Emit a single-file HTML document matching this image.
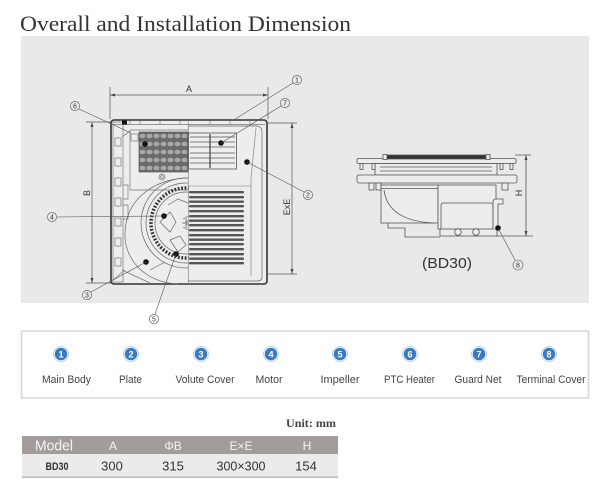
<!DOCTYPE html>
<html><head><meta charset="utf-8"><style>
html,body{margin:0;padding:0;background:#fff;}
svg{display:block;}
</style></head><body>
<svg width="600" height="491" viewBox="0 0 600 491" xmlns="http://www.w3.org/2000/svg">
<defs>
<clipPath id="lh"><rect x="110" y="150" width="78.5" height="140"/></clipPath>
<pattern id="ptc" width="7" height="8" patternUnits="userSpaceOnUse" x="139" y="132">
<rect width="7" height="8" fill="#6a6a6a"/>
<ellipse cx="3.5" cy="4" rx="3" ry="2.3" fill="#a8a8a8"/>
</pattern>
</defs>

<text x="20" y="31" font-family="Liberation Serif, serif" font-size="22" fill="#333" textLength="331" lengthAdjust="spacingAndGlyphs">Overall and Installation Dimension</text>

<rect x="21" y="36" width="568" height="267" fill="#e9e9e9"/>

<!-- LEFT DRAWING -->
<g stroke="#555" stroke-width="0.7" fill="none">
  <!-- dim A -->
  <path d="M110,87 V119 M268,87 V119 M110,95 H268"/>
  <!-- dim B -->
  <path d="M86,122 H112 M86,283 H112 M92,122 V283"/>
  <!-- dim ExE -->
  <path d="M268,123 H297 M268,274 H297 M292,123 V274"/>
</g>
<g fill="#444">
  <path d="M110,95 l5,-1.5 v3z M268,95 l-5,-1.5 v3z"/>
  <path d="M92,122 l-1.5,5 h3z M92,283 l-1.5,-5 h3z"/>
  <path d="M292,123 l-1.5,5 h3z M292,274 l-1.5,-5 h3z"/>
</g>
<g font-family="Liberation Sans, sans-serif" font-size="9" fill="#333" text-anchor="middle">
  <text x="189" y="92">A</text>
  <text transform="translate(90,193) rotate(-90)">B</text>
  <text transform="translate(290,207) rotate(-90)">ExE</text>
</g>

<!-- body -->
<rect x="111" y="120" width="156" height="164" rx="3" fill="#ededed" stroke="#333" stroke-width="1.6"/>
<g stroke="#777" stroke-width="0.7" fill="none">
  <rect x="113" y="122" width="10" height="160"/>
  <rect x="115" y="138" width="6" height="8"/>
  <rect x="115" y="158" width="6" height="8"/>
  <rect x="115" y="178" width="6" height="8"/>
  <rect x="115" y="198" width="6" height="8"/>
  <rect x="115" y="218" width="6" height="8"/>
  <rect x="115" y="238" width="6" height="8"/>
  <rect x="115" y="258" width="6" height="8"/>
  <path d="M123,185 h5 v14 h-5 M123,205 h5 v14 h-5"/>
  <path d="M113,124.5 H265"/>
  <path d="M130,121 v3 M140,121 v3 M160,121 v3 M180,121 v3 M210,121 v3 M230,121 v3 M250,121 v3"/>
  <!-- PTC enclosure -->
  <path d="M130,130 H188 M130,130 V190 H188"/>
  <rect x="131" y="134" width="7" height="7"/>
  <path d="M122,137 l8,-6"/>
  <circle cx="162" cy="177" r="3"/>
  <circle cx="162" cy="177" r="1.4"/>
  <!-- plate right -->
  <path d="M188,126 H256 Q262,126 262,132 V277 Q262,281 257,281 H188" stroke="#666"/>
  <path d="M256,128 L251,178 V276" stroke="#888"/>
  <path d="M188,186 H251" stroke="#999"/>
  <path d="M188.3,120 V284" stroke="#888"/>
  <path d="M122,270 L150,283 M113,280 L125,270"/>
</g>
<rect x="139" y="132" width="49" height="40" fill="url(#ptc)" stroke="#555" stroke-width="0.7"/>
<rect x="122" y="120.5" width="5" height="4" fill="#111"/>
<!-- guard net -->
<rect x="188.5" y="133" width="48" height="36" fill="#eee" stroke="#555" stroke-width="0.8"/>
<g stroke="#555" stroke-width="0.8">
  <path d="M190,137 H235 M190,142 H235 M190,147 H235 M190,153 H235 M190,158 H235 M190,163 H235"/>
  <path d="M210,134 V168" stroke-width="1.4"/>
</g>
<!-- grille -->
<g fill="#555">
  <rect x="189" y="191" width="55" height="2.4" rx="1"/>
  <rect x="189" y="196" width="55" height="2.4" rx="1"/>
  <rect x="189" y="200.5" width="55" height="2.4" rx="1"/>
  <rect x="189" y="205" width="55" height="2.4" rx="1"/>
  <rect x="189" y="210" width="55" height="2.4" rx="1"/>
  <rect x="189" y="215" width="55" height="2.4" rx="1"/>
  <rect x="189" y="219.5" width="55" height="2.4" rx="1"/>
  <rect x="189" y="224" width="55" height="2.4" rx="1"/>
  <rect x="189" y="229" width="55" height="2.4" rx="1"/>
  <rect x="189" y="234" width="55" height="2.4" rx="1"/>
  <rect x="189" y="238.5" width="55" height="2.4" rx="1"/>
  <rect x="189" y="243" width="55" height="2.4" rx="1"/>
  <rect x="189" y="248" width="55" height="2.4" rx="1"/>
  <rect x="189" y="253" width="55" height="2.4" rx="1"/>
  <rect x="189" y="257.5" width="55" height="2.4" rx="1"/>
  <rect x="189" y="262" width="55" height="2.4" rx="1"/>
</g>
<!-- impeller / volute -->
<g clip-path="url(#lh)" fill="none" stroke="#666" stroke-width="0.7">
  <path d="M188,178 C160,178 126,195 125,233 C124,262 148,283 178,284"/>
  <circle cx="186" cy="223" r="45"/>
  <circle cx="186" cy="223" r="40"/>
  <circle cx="186" cy="223" r="35" stroke="#333" stroke-width="3.5" stroke-dasharray="1.8 1.6"/>
  <circle cx="186" cy="223" r="31"/>
  <path d="M168,205 L178,199 L188,203 M160,222 L170,212 L176,222 L170,232 Z M170,240 L180,236 L186,245 L178,252 Z M150,270 L165,262"/>
  <path d="M188,216 L183,219 M188,230 L183,227 M182,223 H188 M186,218 L186,228"/>
  <circle cx="188" cy="223" r="2"/>
</g>
<!-- dots -->
<g fill="#111">
  <circle cx="145" cy="144" r="2.8"/>
  <circle cx="221" cy="143" r="2.8"/>
  <circle cx="247" cy="162" r="2.8"/>
  <circle cx="164" cy="216" r="2.8"/>
  <circle cx="176" cy="254" r="2.8"/>
  <circle cx="146" cy="262" r="2.8"/>
</g>
<!-- callouts -->
<g stroke="#555" stroke-width="0.6" fill="none">
  <path d="M293,83 L232,121"/>
  <path d="M281,106 L221,143"/>
  <path d="M79,109 L131,133"/>
  <path d="M304,192 L247,162"/>
  <path d="M57,217 L164,216"/>
  <path d="M91,292 L146,262"/>
  <path d="M155,314 L176,254"/>
  <circle cx="297" cy="80" r="4.6"/>
  <circle cx="285" cy="103" r="4.6"/>
  <circle cx="75" cy="106" r="4.6"/>
  <circle cx="308" cy="195" r="4.6"/>
  <circle cx="52" cy="217" r="4.6"/>
  <circle cx="87" cy="295" r="4.6"/>
  <circle cx="154" cy="319" r="4.6"/>
</g>
<g font-family="Liberation Sans, sans-serif" font-size="7" fill="#333" text-anchor="middle">
  <text x="297" y="82.5">1</text>
  <text x="285" y="105.5">7</text>
  <text x="75" y="108.5">6</text>
  <text x="308" y="197.5">2</text>
  <text x="52" y="219.5">4</text>
  <text x="87" y="297.5">3</text>
  <text x="154" y="321.5">5</text>
</g>

<!-- RIGHT DRAWING -->
<g stroke="#555" stroke-width="0.8" fill="#ececec">
  <rect x="357" y="158.5" width="159" height="5" rx="1.5"/>
  <rect x="385" y="155" width="103" height="4" fill="#333"/>
  <rect x="383" y="154.5" width="4" height="5"/>
  <rect x="486" y="154.5" width="4" height="5"/>
  <rect x="375" y="163.5" width="122" height="11.5"/>
  <rect x="360" y="163.5" width="3" height="6"/>
  <rect x="372" y="163.5" width="3" height="6"/>
  <rect x="500" y="163.5" width="3" height="6"/>
  <rect x="510" y="163.5" width="3" height="6"/>
  <rect x="357" y="175" width="160" height="8" rx="2"/>
  <rect x="369" y="183" width="5" height="7"/>
  <rect x="376" y="183" width="5" height="7"/>
  <rect x="502" y="183" width="6" height="7"/>
  <rect x="381" y="185" width="57" height="38"/>
  <rect x="438" y="185" width="58" height="44"/>
  <rect x="441" y="203" width="52" height="28" rx="2"/>
  <rect x="440" y="229" width="57" height="7"/>
  <circle cx="458" cy="232" r="3.3"/>
  <circle cx="476" cy="232" r="3.3"/>
  <path d="M493,229 V202 Q493,199 496,199 H503 V204 H498 V229"/>
</g>
<g stroke="#555" stroke-width="0.8" fill="none">
  <path d="M380,167 H492 M380,171 H492"/>
  <path d="M381,188.5 H438"/>
  <path d="M384,190 Q388,221 434,223"/>
  <path d="M388,223 V228 H405 V237 H440"/>
  <path d="M515,155 H531 M497,236 H533 M526,155 V236"/>
</g>
<g fill="#444"><path d="M526,155 l-1.5,5 h3z M526,236 l-1.5,-5 h3z"/></g>
<circle cx="498" cy="228" r="2.8" fill="#111"/>
<path d="M498,228 L515,260" stroke="#555" stroke-width="0.6"/>
<circle cx="518" cy="265" r="5" fill="none" stroke="#555" stroke-width="0.6"/>
<text x="518" y="267.5" font-family="Liberation Sans, sans-serif" font-size="7" fill="#333" text-anchor="middle">8</text>
<text transform="translate(522,193) rotate(-90)" font-family="Liberation Sans, sans-serif" font-size="9" fill="#333" text-anchor="middle">H</text>
<text x="447" y="268" font-family="Liberation Sans, sans-serif" font-size="15" fill="#333" text-anchor="middle" textLength="50" lengthAdjust="spacingAndGlyphs">(BD30)</text>

<!-- LEGEND -->
<rect x="21.5" y="331" width="567" height="67" fill="#fff" stroke="#d6d6d6" stroke-width="1.5"/>
<g>
  <g transform="translate(61,354)"><circle r="8" fill="#bcd4ec"/><circle r="7" fill="#fff"/><circle r="6.3" fill="#3b7bbf"/></g>
  <g transform="translate(131,354)"><circle r="8" fill="#bcd4ec"/><circle r="7" fill="#fff"/><circle r="6.3" fill="#3b7bbf"/></g>
  <g transform="translate(201,354)"><circle r="8" fill="#bcd4ec"/><circle r="7" fill="#fff"/><circle r="6.3" fill="#3b7bbf"/></g>
  <g transform="translate(271,354)"><circle r="8" fill="#bcd4ec"/><circle r="7" fill="#fff"/><circle r="6.3" fill="#3b7bbf"/></g>
  <g transform="translate(340,354)"><circle r="8" fill="#bcd4ec"/><circle r="7" fill="#fff"/><circle r="6.3" fill="#3b7bbf"/></g>
  <g transform="translate(410,354)"><circle r="8" fill="#bcd4ec"/><circle r="7" fill="#fff"/><circle r="6.3" fill="#3b7bbf"/></g>
  <g transform="translate(479,354)"><circle r="8" fill="#bcd4ec"/><circle r="7" fill="#fff"/><circle r="6.3" fill="#3b7bbf"/></g>
  <g transform="translate(549,354)"><circle r="8" fill="#bcd4ec"/><circle r="7" fill="#fff"/><circle r="6.3" fill="#3b7bbf"/></g>
</g>
<g font-family="Liberation Sans, sans-serif" font-size="9" font-weight="bold" fill="#fff" text-anchor="middle">
  <text x="61" y="357.3">1</text>
  <text x="131" y="357.3">2</text>
  <text x="201" y="357.3">3</text>
  <text x="271" y="357.3">4</text>
  <text x="340" y="357.3">5</text>
  <text x="410" y="357.3">6</text>
  <text x="479" y="357.3">7</text>
  <text x="549" y="357.3">8</text>
</g>
<g font-family="Liberation Sans, sans-serif" font-size="11" fill="#444" text-anchor="middle">
  <text x="66.5" y="383" textLength="49" lengthAdjust="spacingAndGlyphs">Main Body</text>
  <text x="130.5" y="383" textLength="23" lengthAdjust="spacingAndGlyphs">Plate</text>
  <text x="205" y="383" textLength="59" lengthAdjust="spacingAndGlyphs">Volute Cover</text>
  <text x="269" y="383" textLength="27" lengthAdjust="spacingAndGlyphs">Motor</text>
  <text x="340" y="383" textLength="39" lengthAdjust="spacingAndGlyphs">Impeller</text>
  <text x="409.5" y="383" textLength="51" lengthAdjust="spacingAndGlyphs">PTC Heater</text>
  <text x="478" y="383" textLength="47" lengthAdjust="spacingAndGlyphs">Guard Net</text>
  <text x="551" y="383" textLength="69" lengthAdjust="spacingAndGlyphs">Terminal Cover</text>
</g>

<!-- TABLE -->
<text x="336" y="427" font-family="Liberation Serif, serif" font-size="12" font-weight="bold" fill="#444" text-anchor="end" textLength="50" lengthAdjust="spacingAndGlyphs">Unit: mm</text>
<rect x="22" y="436" width="316" height="18" fill="#a29d9a"/>
<rect x="22" y="454" width="316" height="22.5" fill="#ebebeb"/>
<line x1="22" y1="477.3" x2="338" y2="477.3" stroke="#bbb" stroke-width="1.5"/>
<g font-family="Liberation Sans, sans-serif" fill="#f4f4f4" text-anchor="middle">
  <text x="54" y="450.5" font-size="14.5" textLength="38" lengthAdjust="spacingAndGlyphs">Model</text>
  <text x="113" y="450" font-size="12">A</text>
  <text x="173" y="450" font-size="12">ΦB</text>
  <text x="241" y="450" font-size="12">E×E</text>
  <text x="307" y="450" font-size="12">H</text>
</g>
<g font-family="Liberation Sans, sans-serif" fill="#333" text-anchor="middle">
  <text x="57" y="470" font-size="11" font-weight="bold" textLength="23" lengthAdjust="spacingAndGlyphs">BD30</text>
  <text x="112" y="470.5" font-size="13">300</text>
  <text x="173" y="470.5" font-size="13">315</text>
  <text x="241" y="470.5" font-size="13" textLength="49" lengthAdjust="spacingAndGlyphs">300×300</text>
  <text x="306" y="470.5" font-size="13">154</text>
</g>
</svg>
</body></html>
